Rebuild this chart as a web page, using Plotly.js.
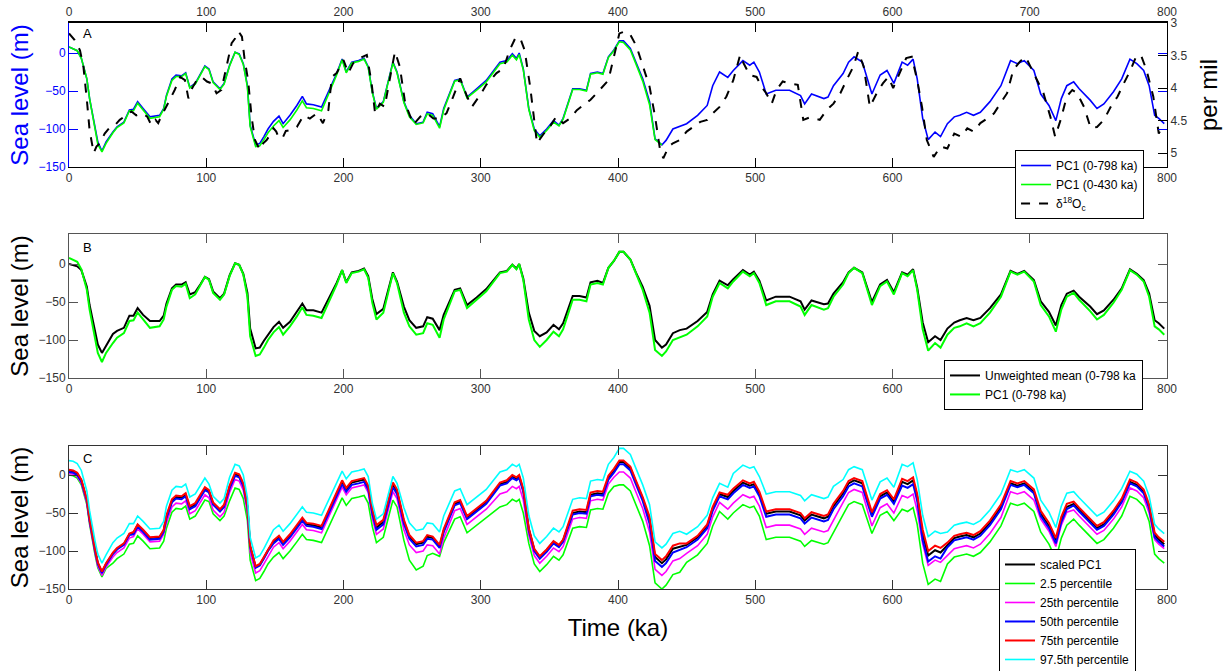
<!DOCTYPE html>
<html><head><meta charset="utf-8">
<script src="https://cdn.plot.ly/plotly-3.0.1.min.js"></script>
<style>html,body{margin:0;padding:0;background:#fff}#g{width:1230px;height:671px}</style>
</head><body><div id="g"></div>
<script>
// time grid (ka)
const t = [0,3,6,9,13,15,19,21,24,27,
32,35,40,44,47,50,54,59,66,69,
71,75,78,82,85,88,92,96,99,102,
105,110,113,117,121,124,127,130,132,136,
139,142,145,149,153,156,161,166,170,173,
178,184,190,195,199,202,206,211,215,218,
221,224,229,236,239,244,248,253,258,261,
265,270,273,281,285,290,297,304,314,319,
323,326,328,331,335,339,343,348,353,357,
360,367,372,377,380,385,389,393,397,401,
404,409,413,418,423,427,432,435,440,445,
450,458,465,469,474,480,484,491,496,499,
503,508,515,525,533,536,541,550,553,557,
564,568,572,578,585,591,596,601,607,611,
615,618,622,626,631,635,640,645,649,654,
659,664,671,679,686,691,696,703,708,714,
719,723,727,732,736,744,749,754,761,767,
773,778,783,787,791,794,798];
// PC1 (0-798 ka), sea level (m)
const pc1 = [8,6,3,-7,-34,-60,-100,-117,-129,-117,
-104,-97,-91,-75,-74,-64,-73,-84,-82,-73,
-56,-34,-29,-30,-26,-45,-40,-27,-17,-21,
-38,-47,-40,-16,1,-1,-14,-43,-95,-121,
-119,-110,-100,-90,-83,-93,-82,-69,-57,-67,
-68,-71,-47,-27,-8,-25,-12,-10,-7,-18,
-51,-73,-64,-12,-25,-64,-82,-93,-91,-78,
-80,-97,-73,-36,-34,-58,-47,-36,-12,-10,
-1,-7,0,-21,-73,-100,-109,-100,-89,-95,
-86,-47,-47,-49,-27,-25,-27,-5,4,16,
16,6,-12,-34,-64,-113,-121,-115,-100,-97,
-93,-82,-69,-43,-25,-32,-23,-10,-16,-12,
-25,-54,-49,-49,-56,-67,-54,-60,-58,-43,
-27,-12,-5,-12,-54,-29,-23,-40,-12,-16,
-8,-34,-86,-114,-104,-110,-93,-84,-82,-78,
-82,-78,-64,-43,-10,-14,-10,-23,-54,-69,
-89,-60,-43,-38,-47,-62,-73,-67,-51,-34,
-8,-14,-23,-43,-82,-86,-93];
// PC1 (0-430 ka)
const pc1_430 = [8,6,3,-7,-34,-60,-102,-120,-130,-119,
-105,-98,-92,-76,-76,-66,-75,-86,-84,-74,
-57,-36,-31,-31,-27,-46,-41,-28,-18,-22,
-39,-48,-41,-17,1,-2,-15,-45,-97,-123,
-122,-114,-105,-96,-89,-98,-88,-75,-63,-72,
-73,-76,-51,-29,-9,-26,-13,-11,-8,-19,
-52,-74,-65,-13,-26,-65,-84,-94,-92,-80,
-82,-99,-75,-37,-35,-59,-49,-38,-14,-12,
-3,-9,-2,-22,-74,-102,-111,-102,-91,-96,
-87,-48,-48,-50,-28,-26,-28,-6,3,15,
14,4,-14,-37,-68,-114,-121];
// Unweighted mean (0-798 ka)
const unwMean = [0,-1,-3,-8,-30,-54,-92,-106,-117,-108,
-92,-88,-84,-68,-68,-58,-67,-75,-75,-68,
-52,-32,-27,-27,-24,-40,-37,-26,-17,-20,
-36,-45,-39,-15,1,-1,-13,-38,-85,-111,
-110,-101,-93,-83,-76,-84,-76,-63,-52,-61,
-61,-64,-43,-25,-8,-24,-11,-9,-6,-16,
-46,-66,-59,-11,-23,-56,-74,-84,-82,-70,
-72,-87,-67,-34,-32,-54,-44,-33,-11,-9,
-1,-6,0,-19,-64,-88,-95,-90,-80,-86,
-78,-42,-42,-44,-24,-22,-25,-5,4,16,
16,6,-11,-30,-55,-100,-110,-106,-91,-87,
-85,-75,-63,-40,-22,-28,-20,-8,-14,-10,
-22,-48,-43,-43,-49,-60,-48,-53,-52,-39,
-24,-11,-5,-11,-50,-27,-21,-37,-11,-14,
-7,-31,-77,-103,-95,-100,-85,-77,-74,-71,
-74,-71,-58,-40,-9,-13,-9,-21,-49,-63,
-81,-54,-39,-35,-43,-56,-66,-61,-47,-32,
-7,-13,-21,-39,-74,-78,-85];
// delta18O (per mil)
const d18T = [0,4,8,10.5,13,15,18,20,22.5,26,30,33.5,37,42,45.5,49,53,57,60,63,65,67.5,71,73.5,77,81,84.5,87,89,93,96.5,100.5,104,107.5,111,115,118.5,121,123.5,126,128,130.5,133,135.5,139,141.5,144,146.5,149,151,153,156,158,161,166,171,175.5,180.5,185,189,191.5,195,200,203.5,207,212,217,220.5,223,226.5,230,234,237.5,241,245,251,256,261,265.5,270,275,280,285,290,293.5,299.5,304,311.5,316.5,321,325,328.5,332,336,338,341,346,350.5,355,360,365,370,375,380,384.5,389,393,397,401,405,409,413.5,418,423,427,430.5,433,437,440,445,450,455,460,465,469,474,479,484,489,491.5,496,501,504.5,508,512,515.5,520,525,531,535,540,547,552,557,562,566.5,571.5,575,579,583.5,588.5,593,597,600.5,605.5,610,614,618,621.5,625,630,635,640,645,650,654.5,659,664,669,674,678.5,683.5,688,693,697,700.5,705.5,710,715,718.5,722.5,727,731,734.5,739.5,744.5,749,754,759,764,768.5,773.5,778,781.5,785,790,794,796.5];
const d18O = [3.16,3.26,3.42,3.67,4.18,4.65,5.0,4.9,4.85,4.7,4.6,4.57,4.49,4.42,4.36,4.42,4.39,4.44,4.57,4.49,4.54,4.42,4.29,4.18,4.03,3.83,3.88,4.16,4.03,3.88,3.83,3.9,3.93,4.08,4.03,3.67,3.31,3.24,3.13,3.21,3.57,3.88,4.44,4.8,4.95,4.85,4.8,4.72,4.62,4.67,4.78,4.75,4.66,4.65,4.6,4.42,4.47,4.39,4.54,4.34,3.83,3.77,3.57,3.77,3.62,3.54,3.49,3.93,4.39,4.24,4.29,3.83,3.44,3.67,4.24,4.56,4.44,4.39,4.47,4.47,4.39,4.13,3.85,4.13,4.29,4.11,3.95,3.77,3.7,3.42,3.24,3.22,3.42,3.98,4.34,4.85,4.7,4.59,4.44,4.54,4.47,4.34,4.26,4.18,4.08,3.98,3.88,3.52,3.16,3.13,3.18,3.36,3.67,3.98,4.44,4.93,5.08,4.9,4.85,4.8,4.67,4.6,4.52,4.49,4.39,4.29,4.13,3.88,3.49,3.62,3.8,3.83,3.98,4.08,4.24,4.03,3.9,3.93,3.95,4.49,4.45,4.49,4.34,4.24,4.08,3.88,3.67,3.44,3.67,4.29,4.08,3.93,3.83,4.0,3.75,3.54,3.52,3.88,4.29,4.8,5.06,4.9,4.93,4.7,4.75,4.62,4.67,4.54,4.47,4.39,4.24,4.08,3.72,3.59,3.52,3.67,3.88,4.08,4.44,4.75,4.49,4.13,4.03,4.08,4.29,4.62,4.6,4.49,4.29,4.13,3.93,3.72,3.49,3.52,3.72,4.13,4.7,4.6];
// Panel C
const cScaled = [6,5,2,-7,-33,-59,-99,-116,-128,-117,
-103,-97,-91,-78,-76,-66,-73,-83,-82,-73,
-55,-34,-29,-30,-26,-43,-39,-26,-18,-22,
-38,-47,-41,-16,1,-1,-13,-42,-94,-121,
-118,-109,-99,-88,-82,-90,-80,-68,-58,-65,
-66,-69,-46,-25,-9,-19,-10,-8,-6,-16,
-48,-69,-62,-13,-22,-61,-81,-91,-89,-81,
-83,-94,-73,-38,-35,-56,-46,-36,-12,-9,
-2,-5,-2,-20,-71,-98,-108,-99,-88,-93,
-86,-50,-48,-49,-26,-24,-25,-4,5,17,
17,9,-9,-31,-59,-108,-116,-111,-97,-94,
-92,-82,-67,-44,-25,-29,-21,-10,-14,-12,
-25,-51,-48,-48,-53,-60,-52,-57,-55,-41,
-24,-11,-7,-11,-52,-28,-23,-35,-9,-12,
-7,-29,-78,-106,-99,-102,-92,-83,-81,-79,
-82,-77,-63,-42,-11,-14,-11,-22,-51,-67,
-87,-59,-42,-38,-46,-60,-70,-65,-50,-34,
-9,-13,-22,-42,-79,-85,-91];
const cP2_5 = [0,-1,-4,-13,-39,-65,-105,-122,-134,-123,
-116,-110,-104,-91,-90,-80,-87,-97,-96,-87,
-70,-49,-44,-45,-41,-58,-54,-41,-33,-35,
-51,-60,-54,-34,-17,-19,-31,-60,-112,-139,
-136,-127,-117,-108,-102,-110,-100,-88,-78,-85,
-86,-89,-66,-46,-30,-40,-31,-29,-27,-37,
-68,-89,-82,-33,-42,-86,-112,-125,-120,-106,
-103,-107,-89,-58,-55,-76,-66,-56,-42,-39,
-32,-35,-32,-50,-90,-117,-127,-118,-107,-112,
-105,-70,-68,-69,-46,-44,-45,-24,-15,-13,
-13,-21,-39,-61,-93,-142,-150,-145,-131,-128,
-115,-105,-90,-67,-48,-58,-50,-39,-43,-41,
-54,-85,-82,-82,-87,-94,-86,-91,-89,-75,
-52,-39,-35,-39,-77,-53,-48,-60,-45,-48,
-43,-65,-116,-144,-137,-140,-117,-108,-106,-104,
-107,-102,-88,-67,-37,-40,-37,-48,-75,-91,
-111,-83,-66,-58,-66,-80,-90,-85,-70,-54,
-28,-32,-41,-61,-104,-110,-116];
const cP25 = [2,1,-2,-11,-37,-63,-103,-120,-132,-121,
-108,-102,-96,-83,-81,-71,-78,-88,-87,-78,
-63,-42,-37,-38,-34,-51,-47,-34,-26,-30,
-46,-55,-49,-23,-6,-8,-20,-50,-102,-129,
-126,-117,-107,-95,-89,-97,-87,-75,-65,-72,
-73,-76,-53,-32,-16,-26,-17,-15,-13,-23,
-57,-78,-71,-22,-31,-72,-92,-102,-100,-92,
-93,-104,-83,-47,-44,-65,-55,-45,-25,-22,
-15,-18,-15,-33,-79,-106,-116,-107,-96,-101,
-94,-58,-56,-57,-34,-32,-33,-12,-3,4,
4,-4,-22,-44,-75,-124,-132,-127,-113,-110,
-103,-93,-78,-55,-36,-45,-37,-26,-30,-28,
-41,-69,-66,-66,-71,-78,-70,-75,-73,-59,
-36,-23,-19,-23,-67,-43,-38,-50,-27,-30,
-25,-47,-91,-119,-112,-115,-106,-97,-95,-93,
-96,-91,-77,-56,-22,-25,-22,-33,-58,-74,
-94,-66,-49,-46,-54,-68,-78,-73,-58,-42,
-17,-21,-30,-50,-85,-91,-97];
const cP50 = [4,3,0,-9,-34,-60,-100,-117,-129,-118,
-104,-98,-92,-79,-78,-68,-75,-85,-84,-75,
-57,-36,-31,-32,-28,-45,-41,-28,-20,-23,
-39,-48,-42,-18,-1,-3,-15,-43,-95,-122,
-119,-110,-100,-90,-84,-92,-82,-70,-60,-67,
-68,-71,-48,-28,-12,-22,-13,-11,-9,-19,
-51,-72,-65,-16,-25,-64,-84,-94,-92,-84,
-85,-96,-75,-40,-37,-58,-48,-38,-14,-11,
-4,-7,-4,-22,-73,-100,-110,-101,-90,-95,
-88,-52,-50,-51,-28,-26,-27,-6,3,14,
14,6,-12,-34,-64,-113,-121,-116,-102,-99,
-95,-85,-70,-47,-28,-32,-24,-13,-17,-15,
-28,-55,-52,-52,-57,-64,-56,-61,-59,-45,
-28,-15,-11,-15,-55,-31,-26,-38,-14,-17,
-12,-34,-86,-114,-107,-110,-95,-86,-84,-82,
-85,-80,-66,-45,-13,-16,-13,-24,-54,-70,
-90,-62,-45,-40,-48,-62,-72,-67,-52,-36,
-11,-15,-24,-44,-82,-88,-94];
const cP75 = [7,6,3,-6,-32,-58,-98,-115,-127,-116,
-102,-96,-90,-77,-75,-65,-72,-82,-81,-72,
-53,-32,-27,-28,-24,-41,-37,-24,-16,-20,
-36,-45,-39,-14,3,1,-11,-41,-93,-120,
-117,-108,-98,-86,-80,-88,-78,-66,-56,-63,
-64,-67,-44,-23,-7,-17,-8,-6,-4,-14,
-45,-66,-59,-10,-19,-59,-79,-89,-87,-79,
-81,-92,-71,-36,-33,-54,-44,-34,-10,-7,
0,-3,0,-18,-70,-97,-107,-98,-87,-92,
-85,-47,-45,-46,-23,-21,-22,-1,8,19,
19,11,-7,-29,-55,-104,-112,-107,-93,-90,
-90,-80,-65,-42,-23,-26,-18,-7,-11,-9,
-22,-48,-45,-45,-50,-57,-49,-54,-52,-38,
-21,-8,-4,-8,-49,-25,-20,-32,-5,-8,
-3,-25,-72,-100,-93,-96,-89,-80,-78,-76,
-79,-74,-60,-39,-8,-11,-8,-19,-47,-63,
-83,-55,-38,-35,-43,-57,-67,-62,-47,-31,
-6,-10,-19,-39,-76,-82,-88];
const cP97_5 = [19,18,15,6,-21,-47,-87,-104,-116,-105,
-89,-83,-77,-64,-64,-54,-61,-71,-70,-61,
-41,-20,-15,-16,-12,-29,-25,-12,-4,-12,
-28,-37,-31,-3,14,12,0,-30,-82,-109,
-106,-97,-87,-72,-66,-74,-64,-52,-42,-49,
-50,-53,-30,-11,5,-5,4,6,8,-2,
-37,-58,-51,-2,-11,-43,-63,-73,-71,-63,
-64,-75,-54,-21,-18,-39,-29,-19,4,7,
14,11,14,-4,-53,-80,-90,-81,-70,-75,
-68,-32,-30,-31,-8,-6,-7,14,23,35,
35,27,9,-13,-39,-88,-96,-91,-77,-74,
-78,-68,-53,-30,-11,-16,2,13,9,11,
-2,-25,-22,-22,-27,-34,-26,-31,-29,-15,
-6,7,11,7,-33,-9,-4,-16,14,11,
16,-6,-53,-81,-74,-77,-75,-66,-64,-62,
-65,-60,-46,-25,7,4,7,-4,-33,-49,
-69,-41,-24,-22,-30,-44,-54,-49,-34,-18,
5,1,-8,-28,-65,-71,-77];

const xTicks = [0,100,200,300,400,500,600,700,800];
const yTicks = [-150,-100,-50,0];
const pmTicks = [3,3.5,4,4.5,5];

const FONT = 'Liberation Sans, Arial, sans-serif';
const tickFont = {family: FONT, size: 12, color: '#333'};

const traces = [
  {x: t, y: pc1, xaxis:'x', yaxis:'y', mode:'lines', name:'PC1 (0-798 ka)', line:{color:'#0000ff', width:1.6}, legend:'legend'},
  {x: t.slice(0, pc1_430.length), y: pc1_430, xaxis:'x', yaxis:'y', mode:'lines', name:'PC1 (0-430 ka)', line:{color:'#00ff00', width:1.6}, legend:'legend'},
  {x: d18T, y: d18O, xaxis:'x', yaxis:'y4', mode:'lines', name:'δ<sup>18</sup>O<sub>c</sub>', line:{color:'#000', width:2, dash:'dash'}, legend:'legend'},
  {x: [], y: [], xaxis:'x4', yaxis:'y', mode:'lines', showlegend:false, hoverinfo:'skip'},
  {x: t, y: unwMean, xaxis:'x2', yaxis:'y2', mode:'lines', name:'Unweighted mean (0-798 ka', line:{color:'#000', width:2}, legend:'legend2'},
  {x: t, y: pc1, xaxis:'x2', yaxis:'y2', mode:'lines', name:'PC1 (0-798 ka)', line:{color:'#00ff00', width:2}, legend:'legend2'},
  {x: t, y: cScaled, xaxis:'x3', yaxis:'y3', mode:'lines', name:'scaled PC1', line:{color:'#000', width:2}, legend:'legend3'},
  {x: t, y: cP2_5, xaxis:'x3', yaxis:'y3', mode:'lines', name:'2.5 percentile', line:{color:'#00ff00', width:1.6}, legend:'legend3'},
  {x: t, y: cP25, xaxis:'x3', yaxis:'y3', mode:'lines', name:'25th percentile', line:{color:'#ff00ff', width:1.6}, legend:'legend3'},
  {x: t, y: cP50, xaxis:'x3', yaxis:'y3', mode:'lines', name:'50th percentile', line:{color:'#0000ff', width:2}, legend:'legend3'},
  {x: t, y: cP75, xaxis:'x3', yaxis:'y3', mode:'lines', name:'75th percentile', line:{color:'#ff0000', width:2}, legend:'legend3'},
  {x: t, y: cP97_5, xaxis:'x3', yaxis:'y3', mode:'lines', name:'97.5th percentile', line:{color:'#00ffff', width:1.6}, legend:'legend3'}
];

function xa(anchor, color, extra) {
  return Object.assign({anchor: anchor, range:[0,800], tickvals: xTicks, ticks:'inside', ticklen:9, tickcolor: color,
    showline:true, linecolor: color, linewidth:1, mirror:'ticks', showgrid:false, zeroline:false, tickfont: tickFont}, extra||{});
}
function ya(anchor, dom, color, extra) {
  return Object.assign({anchor: anchor, domain: dom, range:[-150,39.5], tickvals: yTicks, ticks:'inside', ticklen:9, tickcolor: color,
    showline:true, linecolor: color, linewidth:1, mirror:'ticks', showgrid:false, zeroline:false, tickfont: tickFont,
    title:{text:'Sea level (m)', font:{family: FONT, size:24, color:'#000'}, standoff: 3}}, extra||{});
}
const legBase = {bgcolor:'#fff', bordercolor:'#000', borderwidth:1, font:{family: FONT, size:12, color:'#000'},
  xref:'paper', yref:'paper', xanchor:'left', yanchor:'top', tracegroupgap:0, itemwidth:30};

const layout = {
  width:1230, height:671, paper_bgcolor:'#fff', plot_bgcolor:'#fff',
  margin:{l:69, r:63, t:23, b:82, autoexpand:false}, font:{family: FONT},
  xaxis: xa('y', '#000', {mirror:false}),
  xaxis4: xa('y', '#000', {overlaying:'x', side:'top', mirror:false, linewidth:2}),
  yaxis: ya('x', [0.7456,1], '#0000ff', {linecolor:'#0000ff', mirror:'ticks', tickfont:{family: FONT, size:12, color:'#0000ff'},
     title:{text:'Sea level (m)', font:{family: FONT, size:24, color:'#0000ff'}, standoff: 3}}),
  yaxis4: {overlaying:'y', side:'right', anchor:'x', range:[5.215,3], tickvals: pmTicks, ticks:'inside', ticklen:9, tickcolor:'#000',
     showline:true, linecolor:'#000', showgrid:false, zeroline:false, tickfont: tickFont,
     title:{text:'per mil', font:{family: FONT, size:24, color:'#000'}, standoff: 13}},
  xaxis2: xa('y2', '#555'),
  yaxis2: ya('x2', [0.3728,0.6272], '#555'),
  xaxis3: xa('y3', '#333', {title:{text:'Time (ka)', font:{family: FONT, size:24, color:'#000'}, standoff: 12}}),
  yaxis3: ya('x3', [0,0.2527], '#333', {range:[-150,38.2]}),
  legend: Object.assign({}, legBase, {x:0.8616, y:0.7756}),
  legend2: Object.assign({}, legBase, {x:0.7969, y:0.4047}),
  legend3: Object.assign({}, legBase, {x:0.847, y:0.0707}),
  showlegend:true,
  annotations:[
    {text:'A', xref:'paper', yref:'paper', x:0.0109, y:0.9806, xanchor:'left', yanchor:'middle', showarrow:false, font:{family: FONT, size:13, color:'#000'}},
    {text:'B', xref:'paper', yref:'paper', x:0.0109, y:0.6025, xanchor:'left', yanchor:'middle', showarrow:false, font:{family: FONT, size:13, color:'#000'}},
    {text:'C', xref:'paper', yref:'paper', x:0.0109, y:0.2314, xanchor:'left', yanchor:'middle', showarrow:false, font:{family: FONT, size:13, color:'#000'}}
  ]
};
Plotly.newPlot('g', traces, layout, {displayModeBar:false, staticPlot:true});
</script>
</body></html>
